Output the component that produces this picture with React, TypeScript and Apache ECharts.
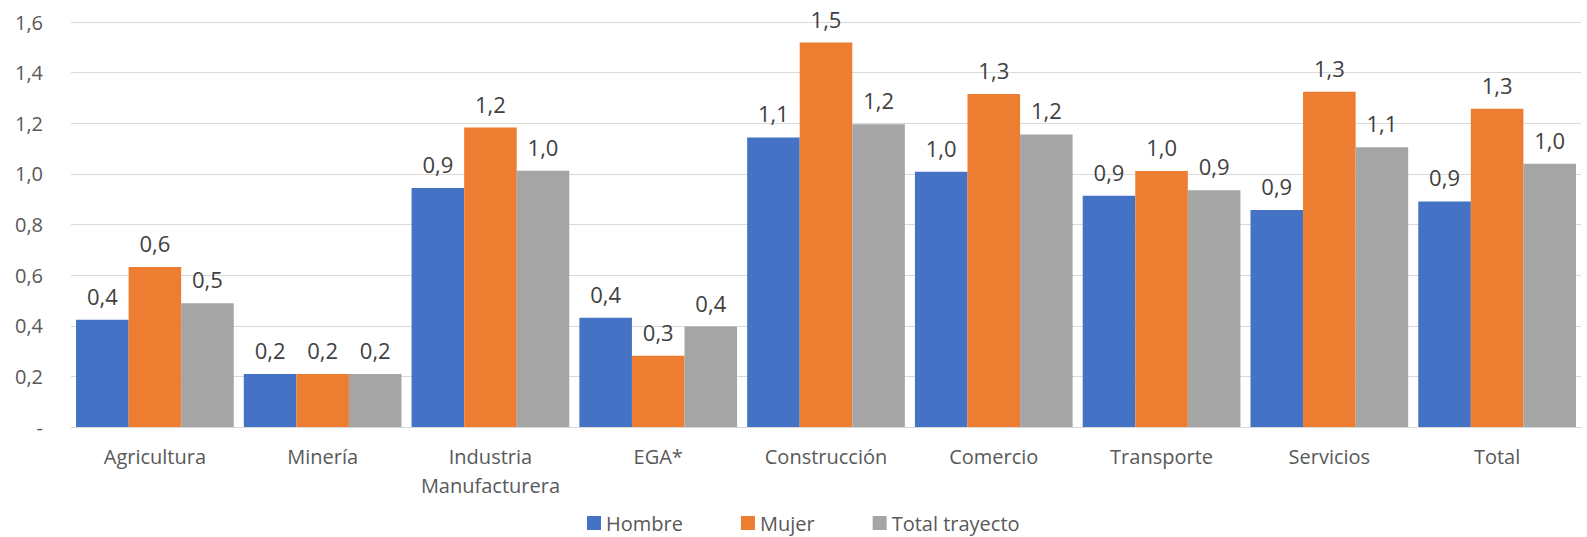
import React, { useEffect, useRef } from "react";
import * as echarts from "echarts";

const categories = [
  "Agricultura",
  "Minería",
  "Industria\nManufacturera",
  "EGA*",
  "Construcción",
  "Comercio",
  "Transporte",
  "Servicios",
  "Total",
];
const hombre = [0.424, 0.209, 0.944, 0.432, 1.144, 1.008, 0.914, 0.857, 0.891];
const mujer = [0.632, 0.209, 1.183, 0.281, 1.519, 1.316, 1.011, 1.324, 1.257];
const totalTrayecto = [0.489, 0.209, 1.012, 0.397, 1.196, 1.156, 0.935, 1.105, 1.04];
const seriesNames = ["Hombre", "Mujer", "Total trayecto"];
const colors = ["#4472C4", "#ED7D31", "#A5A5A5"];

const FONT = "'Open Sans', 'Noto Sans', sans-serif";
const fmt = (v: number) => v.toFixed(1).replace(".", ",");

export default function App() {
  const ref = useRef<HTMLDivElement>(null);
  useEffect(() => {
    document.body.style.margin = "0";
    document.body.style.overflow = "hidden";
    if (!ref.current) return;
    const chart = echarts.init(ref.current, null, { renderer: "svg" });
    const mk = (name: string, data: number[], color: string) => ({
      name,
      type: "bar",
      data,
      barGap: "0%",
      barCategoryGap: "6%",
      itemStyle: { color },
      label: {
        show: true,
        position: "top",
        distance: 13,
        fontFamily: FONT,
        fontSize: 22,
        color: "#404040",
        formatter: (p: any) => fmt(p.value),
      },
    });
    chart.setOption({
      animation: false,
      textStyle: { fontFamily: FONT },
      grid: { left: 71, right: 6, top: 22, bottom: 110, containLabel: false },
      legend: {
        top: 508,
        left: 582,
        itemWidth: 14,
        itemHeight: 14,
        itemGap: 58,
        icon: "rect",
        textStyle: { fontFamily: FONT, fontSize: 20, color: "#595959" },
        data: seriesNames,
      },
      xAxis: {
        type: "category",
        data: categories,
        axisLine: { lineStyle: { color: "#d9d9d9", width: 1 } },
        axisTick: { show: false },
        axisLabel: {
          fontFamily: FONT,
          fontSize: 20,
          color: "#595959",
          margin: 15,
          lineHeight: 29,
          interval: 0,
        },
      },
      yAxis: {
        type: "value",
        min: 0,
        max: 1.6,
        interval: 0.2,
        axisLine: { show: false },
        axisTick: { show: false },
        splitLine: { lineStyle: { color: "#d9d9d9", width: 1 } },
        axisLabel: {
          fontFamily: FONT,
          fontSize: 20,
          color: "#595959",
          margin: 28,
          formatter: (v: number) => (v === 0 ? "-" : fmt(v)),
        },
      },
      series: [
        mk(seriesNames[0], hombre, colors[0]),
        mk(seriesNames[1], mujer, colors[1]),
        mk(seriesNames[2], totalTrayecto, colors[2]),
      ],
    });
    return () => chart.dispose();
  }, []);
  return <div ref={ref} style={{ width: 1587, height: 537 }} />;
}
